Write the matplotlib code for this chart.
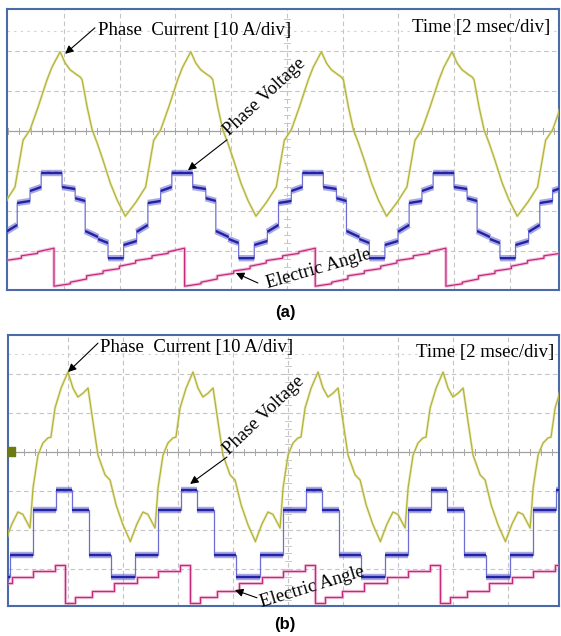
import numpy as np
import matplotlib.pyplot as plt

# time in ms (2 ms/div), trace levels in screen divisions
# ---- (a) ----
cur_a_t = [-2.35, -1.97, -1.62, -1.33, -1.08, -0.79, -0.47, -0.29, 0.0, 0.18, 0.36,
           0.61, 0.72, 0.79, 0.97, 1.15, 1.33, 1.54, 1.80, 2.05, 2.34]
cur_a_v = [-2.13, -1.78, -1.40, -0.23, 0.03, 0.60, 1.28, 1.60, 1.98, 1.70, 1.53,
           1.40, 1.35, 1.28, 0.60, 0.03, -0.30, -0.73, -1.30, -1.73, -2.13]
peak_a, period_a = 1.86, 4.69

volt_a_edges = [-2.41, -1.94, -1.54, -1.08, -0.68, 0.07, 0.54, 0.90, 1.36, 1.72]
volt_a_start = [-2.85, -2.52, -1.80, -1.50, -1.05, -1.40, -1.68, -2.50, -2.70, -3.18]
volt_a_end = [-2.75, -2.35, -1.75, -1.40, -1.05, -1.45, -1.75, -2.65, -2.80, -3.18]

ang_a_drop = -0.22
ang_a_edges = [0.0, 0.59, 1.17, 1.76, 2.35, 2.93, 3.52, 4.10]
ang_a_start = [-3.88, -3.78, -3.62, -3.50, -3.38, -3.24, -3.12, -3.02]
ang_a_end = [-3.82, -3.70, -3.56, -3.44, -3.30, -3.18, -3.06, -2.93]

# ---- (b) ----
cur_b_t = [-2.27, -2.04, -1.82, -1.64, -1.38, -1.27, -1.09, -0.91, -0.73, -0.62, -0.47,
           -0.25, 0.0, 0.18, 0.36, 0.55, 0.73, 0.91, 1.09, 1.35, 1.53, 1.75, 2.00, 2.27]
cur_b_v = [-2.28, -1.85, -1.54, -1.60, -1.95, -0.92, -0.08, 0.23, 0.36, 0.38, 1.13,
           1.64, 2.05, 1.64, 1.41, 1.51, 1.64, 0.77, -0.08, -0.59, -0.72, -1.36, -1.87, -2.30]
peak_b, period_b = 2.0, 4.545

volt_b_edges = [-2.11, -1.27, -0.44, 0.15, 0.76, 1.56]
volt_b_level = [-2.64, -1.49, -0.97, -1.49, -2.64, -3.21]

ang_b_drop = -0.11
ang_b_edges = [0.0, 0.36, 0.98, 1.78, 2.62, 3.38, 4.18]
ang_b_level = [-3.87, -3.72, -3.56, -3.36, -3.21, -3.05, -2.90]

CUR = ('#b3b33a', '#dcdc90')
VOLT = ('#2222a6', '#6e6ed2')
ANG = ('#c42a7c', '#e890c0')
FS = 13.5


def plateaus(edges, start, end, span, gaps=False):
    e = list(edges) + [edges[0] + span]
    t, v = [], []
    for i in range(len(start)):
        t += [e[i], e[i + 1]]
        v += [start[i], end[i]]
        if gaps:
            t.append(np.nan)
            v.append(np.nan)
    return t, v


def tile(t_rel, v, t0, period, ks=range(-1, 5)):
    ts = [np.asarray(t_rel, dtype=float) + t0 + k * period for k in ks]
    vs = [np.asarray(v, dtype=float) for k in ks]
    return np.concatenate(ts), np.concatenate(vs)


def trace(ax, t, v, colors, lw, halo):
    ax.plot(t, v, color=colors[1], lw=halo, alpha=0.55, zorder=3)
    ax.plot(t, v, color=colors[0], lw=lw, zorder=4)


def step_trace(ax, edges, start, end, t0, period, colors):
    # thin vertical transitions, fuzzy plateaus
    pt, pv = plateaus(edges, start, end, period)
    t, v = tile(pt, pv, t0, period)
    ht, hv = plateaus(edges, start, end, period, gaps=True)
    ht, hv = tile(ht, hv, t0, period)
    ax.plot(t, v, color=colors[1], lw=0.9, zorder=3)
    ax.plot(ht, hv, color=colors[1], lw=4.6, alpha=0.6, solid_capstyle='butt', zorder=3)
    ax.plot(ht, hv, color=colors[0], lw=1.7, solid_capstyle='butt', zorder=4)


def scope_axes(rect, xlim, ylim):
    ax = fig.add_axes(rect)
    ax.set_xlim(xlim)
    ax.set_ylim(ylim)
    ax.set_xticks([])
    ax.set_yticks([])
    for s in ax.spines.values():
        s.set_color('#4a6aa8')
        s.set_linewidth(1.5)
    for x in range(2, 20, 2):
        ax.axvline(x, color='#c4c4c4', lw=0.8, ls=(0, (4, 3)), zorder=1)
    for y in [-3, -2, -1, 1, 2]:
        ax.axhline(y, color='#c4c4c4', lw=0.8, ls=(0, (4, 3)), zorder=1)
    ax.axhline(2.5, color='#d0d0d0', lw=0.8, ls=(0, (2, 4)), zorder=1)
    ax.axhline(0, color='#a0a0a0', lw=0.9, zorder=1)
    # minor ticks on the centre lines
    for x in np.arange(0, 20, 0.4):
        ax.plot([x, x], [-0.07, 0.07], color='#a8a8a8', lw=0.7, zorder=1)
    for y in np.arange(-3.8, 3.0, 0.2):
        ax.plot([9.88, 10.12], [y, y], color='#c8c8c8', lw=0.7, zorder=1)
    return ax


def arrow(ax, head, tail):
    ax.annotate('', xy=head, xytext=tail,
                arrowprops=dict(arrowstyle='-|>', color='black', lw=0.8,
                                mutation_scale=12, shrinkA=0, shrinkB=0), zorder=6)


plt.rcParams['font.family'] = ['Liberation Serif', 'DejaVu Serif']
fig = plt.figure(figsize=(5.61, 6.36), dpi=100)

# ---------------- (a) ----------------
ax1 = scope_axes([7 / 561, 1 - 290 / 636, 552 / 561, 281 / 636], (-0.047, 19.77), (-3.975, 3.05))

t, v = tile(cur_a_t, cur_a_v, peak_a, period_a)
trace(ax1, t, v, CUR, 0.9, 2.0)
step_trace(ax1, volt_a_edges, volt_a_start, volt_a_end, peak_a, period_a, VOLT)
pt, pv = plateaus(ang_a_edges, ang_a_start, ang_a_end, period_a)
t, v = tile(pt, pv, peak_a + ang_a_drop, period_a)
trace(ax1, t, v, ANG, 0.9, 2.4)

ax1.text(3.22, 2.52, 'Phase  Current [10 A/div]', fontsize=FS, va='center', zorder=7)
ax1.text(19.45, 2.58, 'Time [2 msec/div]', fontsize=FS, va='center', ha='right', zorder=7)
ax1.text(7.92, -0.12, 'Phase Voltage', fontsize=FS, rotation=43,
         rotation_mode='anchor', va='baseline', ha='left', zorder=7)
ax1.text(9.32, -3.93, 'Electric Angle', fontsize=FS, rotation=16,
         rotation_mode='anchor', va='baseline', ha='left', zorder=7, clip_on=False)
arrow(ax1, (2.04, 1.93), (3.11, 2.58))
arrow(ax1, (6.45, -0.98), (7.85, -0.22))
arrow(ax1, (8.17, -3.55), (8.96, -3.80))

# ---------------- (b) ----------------
ax2 = scope_axes([8 / 561, 1 - 606 / 636, 551 / 561, 271 / 636], (-0.18, 19.85), (-3.95, 3.0))

t, v = tile(cur_b_t, cur_b_v, peak_b, period_b)
trace(ax2, t, v, CUR, 0.9, 2.0)
step_trace(ax2, volt_b_edges, volt_b_level, volt_b_level, peak_b, period_b, VOLT)
pt, pv = plateaus(ang_b_edges, ang_b_level, ang_b_level, period_b)
t, v = tile(pt, pv, peak_b + ang_b_drop, period_b)
trace(ax2, t, v, ANG, 0.9, 2.4)

# channel marker at the left edge
ax2.fill_between([-0.18, 0.08], -0.1, 0.14, color='#6b7a12', zorder=5)

ax2.text(3.16, 2.69, 'Phase  Current [10 A/div]', fontsize=FS, va='center', zorder=7)
ax2.text(19.67, 2.54, 'Time [2 msec/div]', fontsize=FS, va='center', ha='right', zorder=7)
ax2.text(7.85, -0.08, 'Phase Voltage', fontsize=FS, rotation=44,
         rotation_mode='anchor', va='baseline', ha='left', zorder=7)
ax2.text(9.05, -3.97, 'Electric Angle', fontsize=FS, rotation=17,
         rotation_mode='anchor', va='baseline', ha='left', zorder=7, clip_on=False)
arrow(ax2, (2.0, 2.05), (3.09, 2.79))
arrow(ax2, (6.44, -0.82), (7.78, -0.13))
arrow(ax2, (8.07, -3.54), (8.87, -3.74))

fig.text(285 / 561, 1 - 312 / 636, '(a)', ha='center', va='center', fontsize=12,
         fontweight='bold', family='Liberation Sans')
fig.text(285 / 561, 1 - 625 / 636, '(b)', ha='center', va='center', fontsize=12,
         fontweight='bold', family='Liberation Sans')

fig.savefig('out.png', dpi=100)
